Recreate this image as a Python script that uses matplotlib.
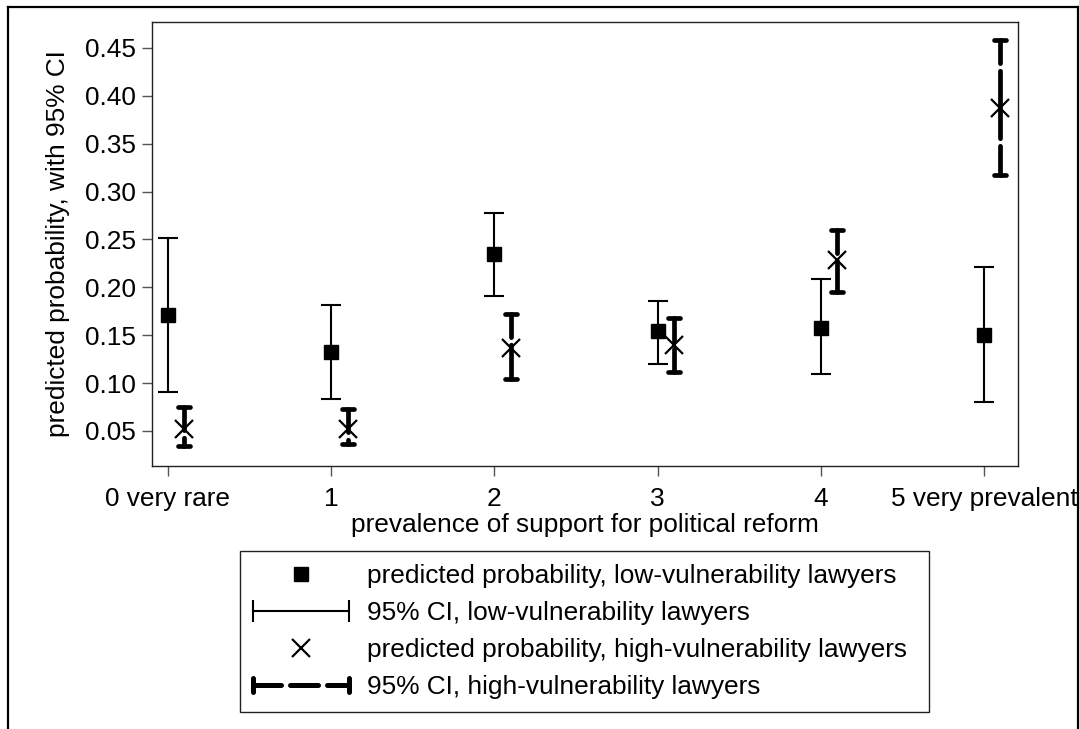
import matplotlib.pyplot as plt
import numpy as np
from matplotlib.legend_handler import HandlerLine2D
from matplotlib.lines import Line2D
from matplotlib.markers import MarkerStyle


plt.switch_backend("Agg")
plt.rcParams["font.family"] = ["Liberation Sans", "DejaVu Sans"]

# values
categories = ["0 very rare", "1", "2", "3", "4", "5 very prevalent"]
prevalence = np.arange(6)
y_ticks = [0.05, 0.10, 0.15, 0.20, 0.25, 0.30, 0.35, 0.40, 0.45]

low_prob = [0.171, 0.132, 0.235, 0.154, 0.158, 0.150]
low_lo = [0.091, 0.083, 0.191, 0.120, 0.109, 0.080]
low_hi = [0.251, 0.181, 0.278, 0.186, 0.209, 0.221]

high_prob = [0.052, 0.052, 0.137, 0.140, 0.228, 0.387]
high_lo = [0.034, 0.036, 0.104, 0.112, 0.195, 0.317]
high_hi = [0.075, 0.073, 0.172, 0.168, 0.260, 0.458]
high_offset = 0.1

labels = [
    "predicted probability, low-vulnerability lawyers",
    "95% CI, low-vulnerability lawyers",
    "predicted probability, high-vulnerability lawyers",
    "95% CI, high-vulnerability lawyers",
]

W, H = 1079, 729
FS = 18.9
fig = plt.figure(figsize=(W / 100, H / 100), dpi=100)
fig.patch.set_facecolor("white")

# axes box in pixels: left 152, right 1018, top 22, bottom 466
ax = fig.add_axes([152 / W, (H - 466) / H, (1018 - 152) / W, (466 - 22) / H])

x_low = prevalence
x_high = prevalence + high_offset

# low-vulnerability: thin CI with flat caps, square marker
ax.vlines(x_low, low_lo, low_hi, color="black", lw=1.5)
for ends in (low_lo, low_hi):
    ax.plot(x_low, ends, ls="none", marker="_", ms=14.5, mew=1.5, color="black")
ax.plot(x_low, low_prob, ls="none", marker="s", ms=9.5, color="black", zorder=4)

# high-vulnerability: thick dashed CI with round caps, x marker
round_cap = MarkerStyle("_", capstyle="round")
for x, lo, hi in zip(x_high, high_lo, high_hi):
    ax.plot([x, x], [hi, lo], color="black", lw=3.4,
            ls=(9.4, (14.3, 1.6)), dash_capstyle="round", solid_capstyle="round")
for ends in (high_lo, high_hi):
    ax.plot(x_high, ends, ls="none", marker=round_cap, ms=9, mew=3.4, color="black")
ax.plot(x_high, high_prob, ls="none", marker="x", ms=13.5, mew=1.6, color="black", zorder=5)

ax.set_xlim(-0.098, 5.208)
ax.set_ylim(0.0134, 0.477)
ax.set_xticks(prevalence)
ax.set_xticklabels(categories)
ax.set_yticks(y_ticks)
ax.set_yticklabels([f"{v:.2f}" for v in y_ticks])
ax.tick_params(axis="both", labelsize=FS, length=7.5, width=1, color="#555555")
ax.tick_params(axis="y", pad=4)
ax.tick_params(axis="x", pad=7.5)
for spine in ax.spines.values():
    spine.set_linewidth(1.0)
    spine.set_color("#222222")

fig.text(585 / W, (H - 532) / H, "prevalence of support for political reform",
         ha="center", va="baseline", fontsize=FS)
fig.text(58 / W, (H - 244) / H, "predicted probability, with 95% CI",
         rotation=90, ha="center", va="center", fontsize=FS)

# legend
h_low = Line2D([], [], ls="none", marker="s", ms=9.5, color="black")
h_low_ci = Line2D([], [], color="black", lw=1.5, marker="|", ms=15.5, mew=1.5)
h_high = Line2D([], [], ls="none", marker="x", ms=13.5, mew=1.6, color="black")
h_high_ci = Line2D([], [], color="black", lw=3.6, ls=(0, (5.6, 1.8)),
                   dash_capstyle="round",
                   marker=MarkerStyle("|", capstyle="round"), ms=10, mew=3.6)
leg = fig.legend(
    [h_low, h_low_ci, h_high, h_high_ci], labels,
    loc="upper left",
    bbox_to_anchor=(240 / W, (H - 551) / H, (929 - 240) / W, 0),
    mode="expand", borderaxespad=0, fontsize=FS,
    handlelength=3.66, handletextpad=0.69, borderpad=0.5, labelspacing=0.49,
    fancybox=False, framealpha=1, edgecolor="#222222",
    handler_map={h_low_ci: HandlerLine2D(numpoints=2, marker_pad=0),
                 h_high_ci: HandlerLine2D(numpoints=2, marker_pad=0)},
)
leg.get_frame().set_linewidth(1.0)

# outer frame (open at the bottom)
fx0, fx1, fy = 7.5 / W, 1077.5 / W, (H - 7) / H
for xs, ys in (([fx0, fx0], [0, fy]), ([fx0, fx1], [fy, fy]), ([fx1, fx1], [fy, 0])):
    fig.add_artist(Line2D(xs, ys, transform=fig.transFigure, color="black", lw=1.6))

fig.savefig("out.png", dpi=100)
